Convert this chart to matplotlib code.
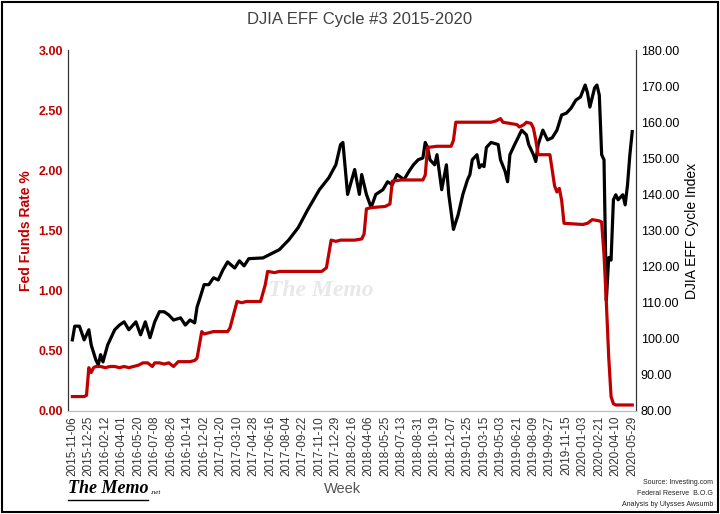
import matplotlib
matplotlib.use("Agg")
import matplotlib.pyplot as plt
import pandas as pd

start_date = "2015-11-06"
n_weeks = 239
tick_every = 7

djia_week = [0,1,3,5,7,8,10,11,12,13,15,18,20,22,24,27,29,31,33,35,37,39,41,43,46,48,50,52,53,54,56,58,60,62,64,66,69,71,73,75,81,88,92,96,100,105,109,112,114,115,117,120,122,123,125,127,129,132,134,136,138,141,143,145,147,149,150,151,152,154,155,157,159,160,162,164,166,168,169,170,172,173,174,175,176,178,181,182,184,185,186,188,189,191,193,194,196,197,198,200,202,204,206,208,210,212,214,216,218,219,220,222,223,224,225,226,227,228,229,230,231,232,234,235,236,237,238]
djia_val = [99.7,103.5,103.5,99.7,102.5,98.3,94.1,92.8,95.6,93.6,98.3,102.5,103.8,104.7,102.5,104.7,101.1,104.7,100.3,104.7,107.5,107.5,106.6,105.2,105.8,103.8,105.2,104.4,108.8,110.8,115,115,116.9,116.3,119.1,121.3,119.6,121.6,120.2,122.2,122.4,124.7,127.4,130.8,135.7,141.3,144.6,148.2,153.8,154.4,140,146.9,140,145.5,140,136.4,140,141.3,143.5,142.7,145.5,144.1,146.3,148.2,149.6,150.1,154.4,153,149.6,148.2,151,141.3,148.2,140,130.3,134.4,140,144.1,145.5,149.6,151,147.4,148.2,147.7,153,154.4,153.8,149.6,146.3,143.5,151,153.8,155.1,157.8,156.5,153.8,151,149.1,153.8,157.8,155.1,155.7,157.8,162,162.5,163.9,166.1,167,170.3,168.1,164.2,169.5,170.3,167.5,151,149.6,110.7,122.5,121.8,138.5,139.9,138.5,139.9,137.1,142.7,151,157.4]

fed_week = [0,5,6,7,8,9,10,12,14,16,18,20,22,24,26,28,30,32,34,35,37,39,41,43,45,47,50,52,53,55,56,58,60,66,67,70,72,74,78,80,82,83,86,88,95,100,106,108,110,112,114,120,123,124,125,127,133,135,136,140,149,150,151,155,161,162,163,170,178,180,182,183,186,189,190,192,193,195,196,197,198,203,204,205,206,207,208,209,217,219,221,224,225,226,227,228,229,230,231,238]
fed_val = [0.12,0.12,0.13,0.36,0.32,0.36,0.37,0.37,0.36,0.37,0.37,0.36,0.37,0.36,0.37,0.38,0.40,0.40,0.37,0.40,0.40,0.39,0.40,0.37,0.41,0.41,0.41,0.42,0.44,0.66,0.64,0.65,0.66,0.66,0.69,0.91,0.90,0.91,0.91,0.91,1.05,1.16,1.15,1.16,1.16,1.16,1.16,1.19,1.42,1.41,1.42,1.42,1.43,1.47,1.68,1.69,1.70,1.72,1.91,1.92,1.92,1.96,2.19,2.20,2.20,2.25,2.40,2.40,2.40,2.41,2.43,2.40,2.39,2.38,2.36,2.38,2.40,2.39,2.35,2.25,2.13,2.13,2.00,1.87,1.82,1.85,1.75,1.56,1.55,1.56,1.59,1.58,1.57,1.30,0.90,0.45,0.12,0.06,0.05,0.05]

dates = pd.date_range(start_date, periods=n_weeks, freq="7D")
tick_pos = list(range(0, n_weeks, tick_every))
tick_labels = [dates[i].strftime("%Y-%m-%d") for i in tick_pos]

plt.rcParams["font.family"] = "Liberation Sans"
fig = plt.figure(figsize=(7.2, 5.14), dpi=100)
ax = fig.add_axes([0.094, 0.2004, 0.789, 0.7023])
ax2 = ax.twinx()

ax.plot(fed_week, fed_val, color="#c00000", lw=2.3, zorder=3)
ax2.plot(djia_week, djia_val, color="black", lw=2.3)
ax.set_zorder(ax2.get_zorder() + 1)
ax.patch.set_visible(False)

ax.set_xlim(-2, n_weeks + 0.5)
ax.set_ylim(0, 3)
ax2.set_ylim(80, 180)
ax.set_yticks([0, 0.5, 1, 1.5, 2, 2.5, 3])
ax.set_yticklabels([f"{v:.2f}" for v in [0, 0.5, 1, 1.5, 2, 2.5, 3]], color="#c00000", fontweight="bold", fontsize=9)
ax2.set_yticks(range(80, 181, 10))
ax2.set_yticklabels([f"{v:.2f}" for v in range(80, 181, 10)], fontsize=9)
ax.set_xticks(tick_pos)
ax.set_xticklabels(tick_labels, rotation=90, fontsize=8.5, color="#333333")
ax.tick_params(axis="both", length=0)
ax2.tick_params(length=0)
for a in (ax, ax2):
    a.spines["top"].set_visible(False)
    a.spines["left"].set_color("#333333")
    a.spines["right"].set_color("#333333")
    a.spines["bottom"].set_color("#bbbbbb")

ax.set_ylabel("Fed Funds Rate %", color="#c00000", fontweight="bold", fontsize=10)
ax2.set_ylabel("DJIA EFF Cycle Index", fontsize=10)
fig.text(0.5, 0.962, "DJIA EFF Cycle #3 2015-2020", ha="center", va="center", fontsize=12, color="#404040")
fig.text(0.475, 0.048, "Week", ha="center", va="center", fontsize=10.5, color="#555555")
fig.text(0.445, 0.435, "The Memo", ha="center", va="center", fontsize=17, color="#e8e8e8",
         family="Liberation Serif", style="italic", fontweight="bold")
fig.text(0.094, 0.05, "The Memo", ha="left", va="center", fontsize=13, family="Liberation Serif",
         style="italic", fontweight="bold")
fig.text(0.21, 0.042, ".net", ha="left", va="center", fontsize=5, family="Liberation Serif", style="italic")
fig.add_artist(plt.Line2D([0.094, 0.205], [0.028, 0.028], color="black", lw=1))
fig.text(0.99, 0.068, "Source: Investing.com\nFederal Reserve  B.O.G\nAnalysis by Ulysses Awsumb",
         ha="right", va="top", fontsize=5, linespacing=1.8, color="#222222")
fig.add_artist(plt.Rectangle((0.003, 0.004), 0.994, 0.992, fill=False, ec="black", lw=1.5,
                             transform=fig.transFigure))
fig.savefig("out.png", dpi=100)
